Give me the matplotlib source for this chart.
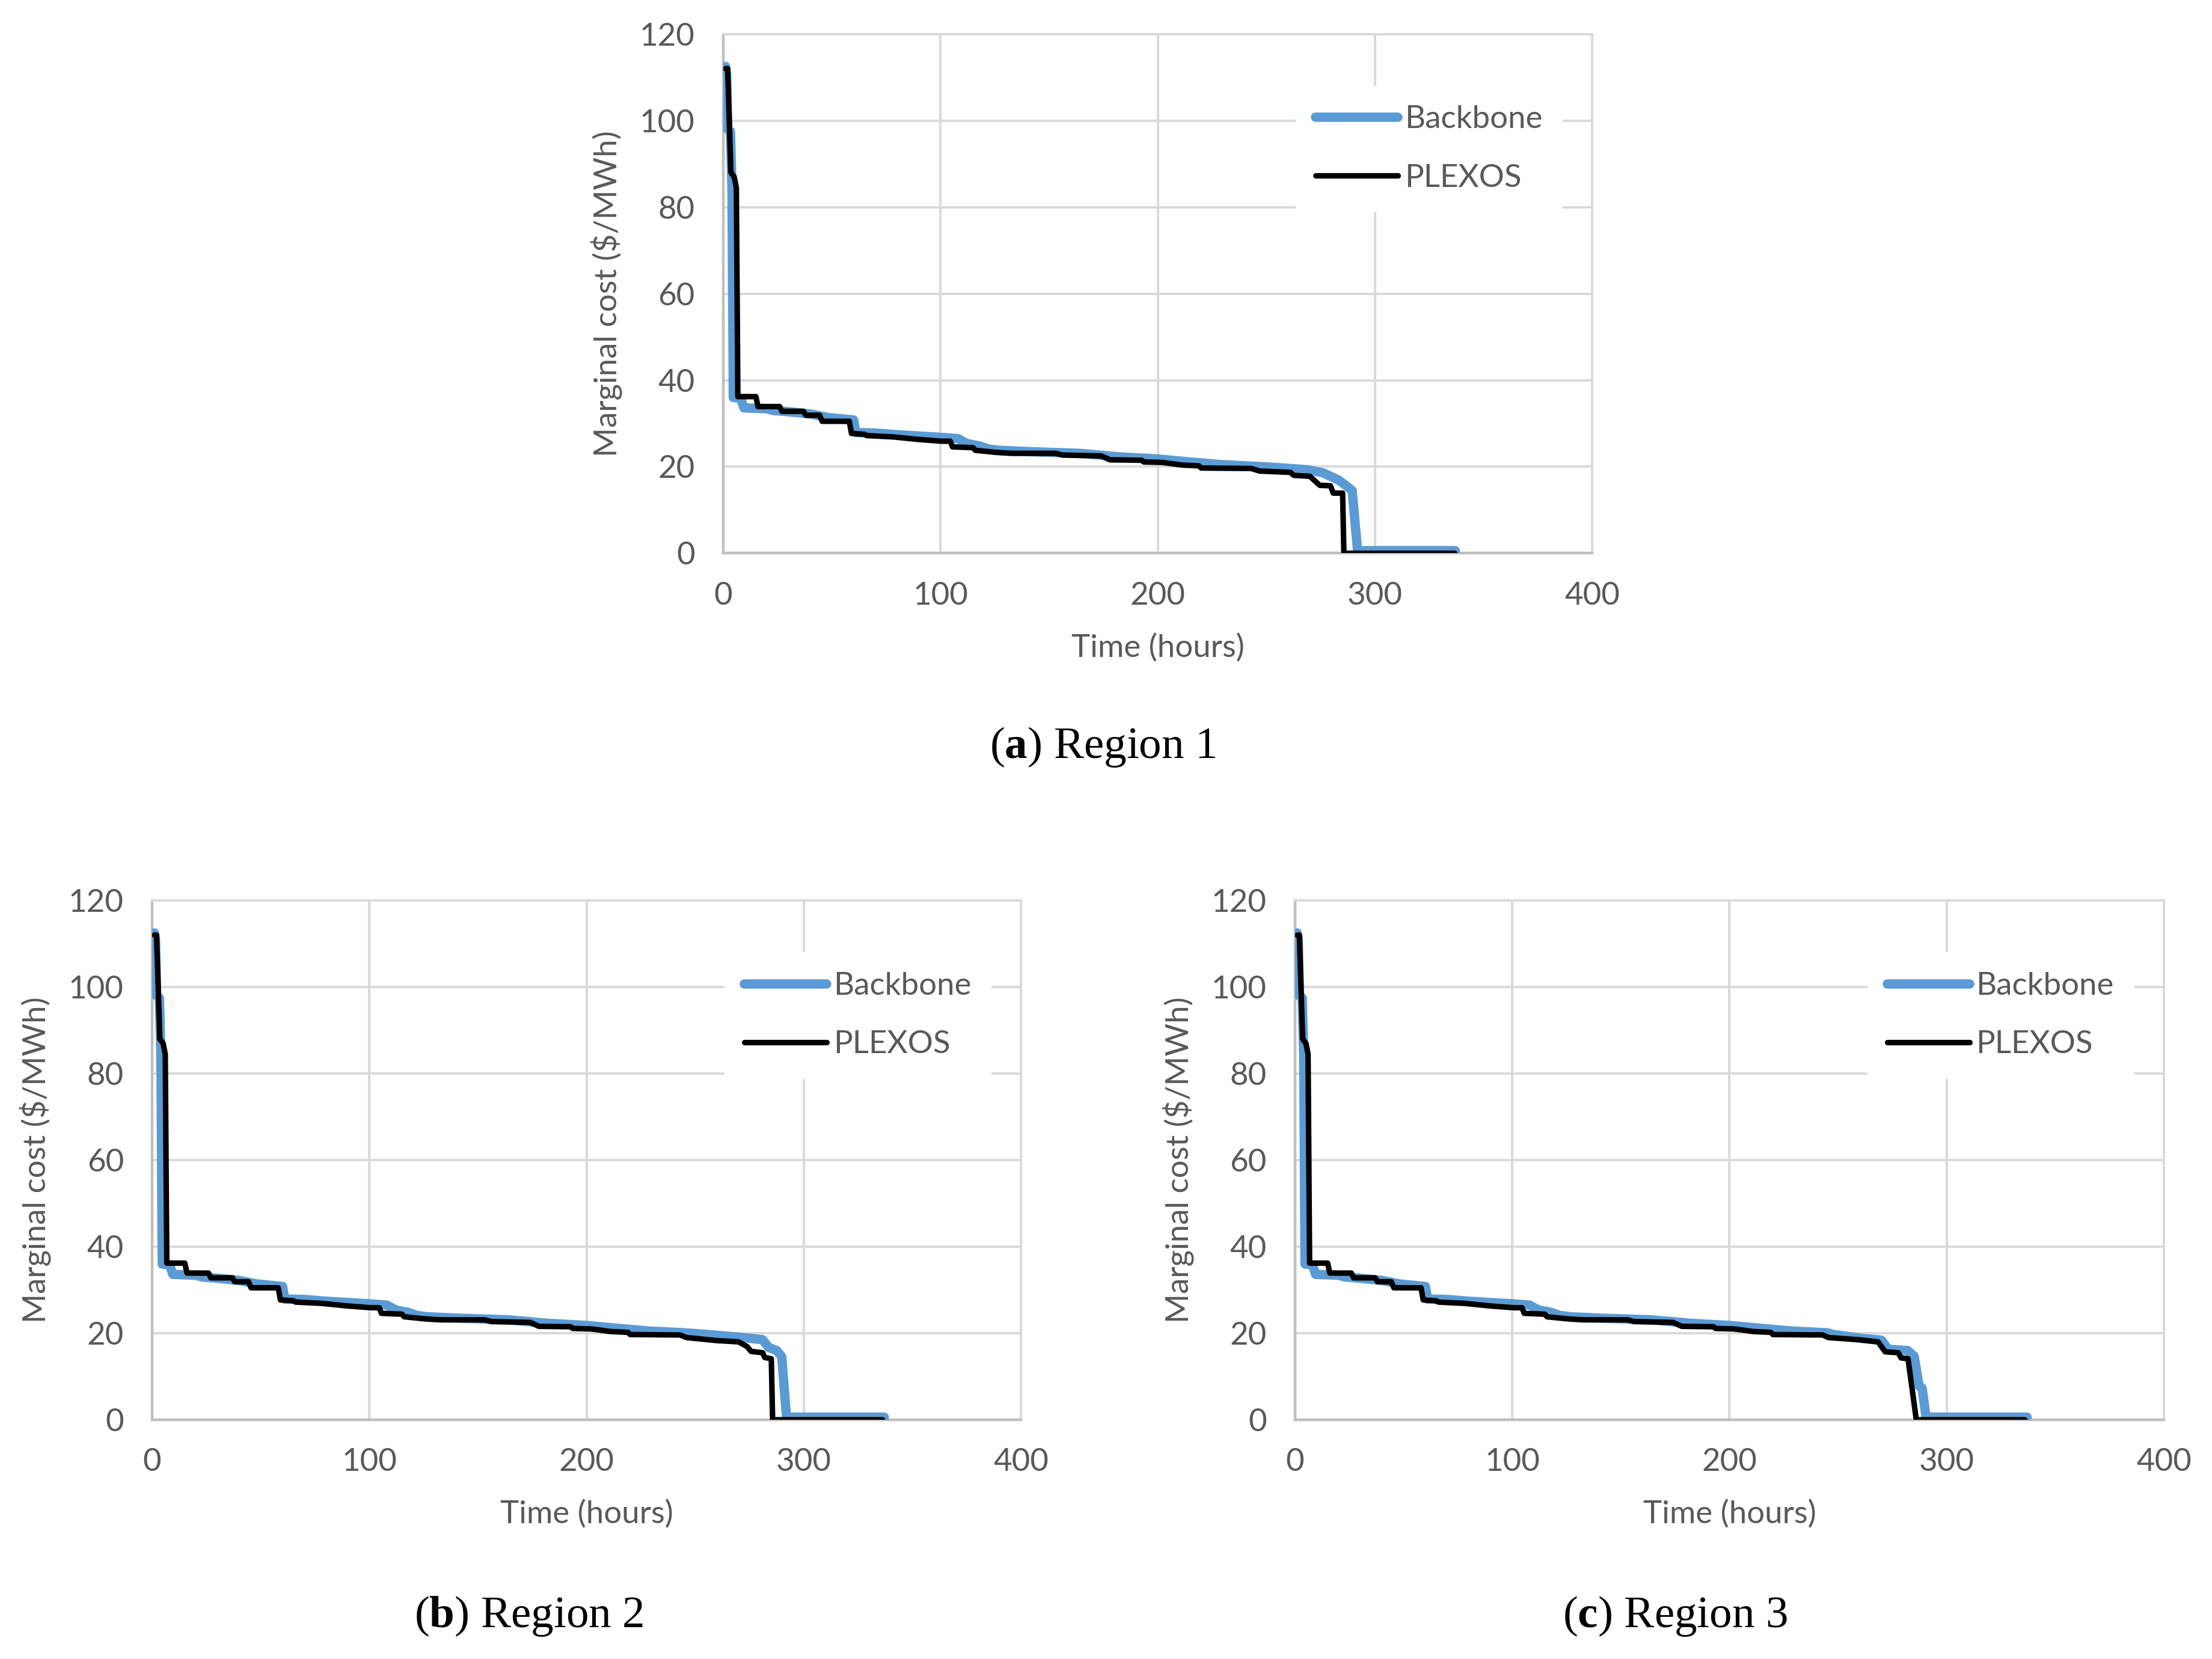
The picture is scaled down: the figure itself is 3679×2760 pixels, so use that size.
"""Marginal cost duration curves: Backbone vs PLEXOS for three regions"""
import numpy as np
import matplotlib
matplotlib.use('Agg')
import matplotlib.pyplot as plt

plt.rcParams['font.family'] = ['Lato', 'DejaVu Sans']
plt.rcParams['mathtext.fontset'] = 'custom'
plt.rcParams['mathtext.rm'] = 'Liberation Serif'
plt.rcParams['mathtext.bf'] = 'Liberation Serif:bold'

# ---- data: sorted hourly marginal cost ($/MWh) ----
# part shared by all three regions (hours 1..~245)
plexos_head_h = [1, 2, 3.5, 5, 6, 6.7, 15, 16, 25.9, 27, 36.9, 38, 44.3, 45.5, 58, 59,
                 65, 66, 78, 90, 100.5, 104.5, 105.5, 115, 116, 126, 132.5, 153, 156,
                 174, 178, 192.6, 193.6, 202, 211, 219, 220, 243]
plexos_head_v = [112, 112, 88, 87, 84.5, 36.2, 36.2, 33.9, 33.9, 32.8, 32.8, 31.9, 31.9,
                 30.5, 30.5, 27.7, 27.5, 27.2, 26.9, 26.3, 25.9, 25.9, 24.6, 24.4, 23.8,
                 23.3, 23.1, 23.1, 22.7, 22.5, 21.6, 21.5, 21.1, 21.0, 20.4, 20.2, 19.7, 19.6]
backbone_head_h = [1, 1.5, 2, 3.3, 4, 4.6, 8, 9.5, 20, 23, 30, 40, 48, 56, 60, 61, 70, 80,
                   90, 100, 108, 112, 118, 122, 127, 140, 164, 182, 200, 215, 229, 245]
backbone_head_v = [112.5, 111, 98, 97.5, 84, 36, 35.8, 33.6, 33.4, 33.0, 32.7, 32.2, 31.4,
                   31.0, 30.8, 27.9, 27.8, 27.4, 27.1, 26.8, 26.5, 25.4, 24.8, 24.1, 23.8,
                   23.5, 23.1, 22.3, 21.8, 21.1, 20.5, 20.1]

# region specific tails
r1_plexos_h = [247, 261, 262.7, 270, 274.6, 279.5, 280.8, 285.1, 285.7, 336.7]
r1_plexos_v = [19.0, 18.7, 18.0, 17.8, 15.7, 15.6, 13.9, 13.9, 0, 0]
r1_backbone_h = [249, 255, 269, 276, 283, 286, 289.5, 292, 337]
r1_backbone_v = [20.0, 19.8, 19.3, 18.6, 17.0, 15.9, 14.5, 0.6, 0.6]

r2_plexos_h = [246, 260, 270, 273.9, 275.7, 281, 282, 285, 285.6, 336.2]
r2_plexos_v = [19.0, 18.3, 18.0, 16.9, 15.8, 15.5, 14.4, 14.1, 0, 0]
r2_backbone_h = [256, 272, 281, 283.8, 287.5, 289.8, 292, 337]
r2_backbone_v = [19.7, 19.0, 18.5, 16.7, 16.0, 14.6, 0.6, 0.6]

r3_plexos_h = [245.5, 259.4, 268.4, 271.7, 277.7, 279, 282.2, 286, 336]
r3_plexos_v = [19.0, 18.5, 18.0, 15.7, 15.5, 14.3, 14.1, 0, 0]
r3_backbone_h = [248, 261, 270, 273, 282, 285, 287.3, 288.7, 290.5, 337]
r3_backbone_v = [19.7, 18.8, 18.4, 16.3, 16.0, 14.7, 7.8, 7.3, 0.6, 0.6]

captions = [r'($\mathbf{a}$) Region 1', r'($\mathbf{b}$) Region 2', r'($\mathbf{c}$) Region 3']

BLUE = '#5B9BD5'
GRID = '#D9D9D9'
TXT = '#595959'
FS = 19

fig = plt.figure(figsize=(18.4, 13.8), dpi=200)

axes_pos = [
    [0.3269, 0.6665, 0.3927, 0.3130],
    [0.0688, 0.1442, 0.3927, 0.3130],
    [0.5853, 0.1442, 0.3927, 0.3130],
]
caption_pos = [(0.4985, 0.5496), (0.239, 0.0257), (0.757, 0.0257)]

series = [
    (r1_backbone_h, r1_backbone_v, r1_plexos_h, r1_plexos_v),
    (r2_backbone_h, r2_backbone_v, r2_plexos_h, r2_plexos_v),
    (r3_backbone_h, r3_backbone_v, r3_plexos_h, r3_plexos_v),
]

for pos, (bh, bv, ph, pv), cap, cpos in zip(axes_pos, series, captions, caption_pos):
    ax = fig.add_axes(pos)
    b_x = np.array(backbone_head_h + bh)
    b_y = np.array(backbone_head_v + bv)
    p_x = np.array(plexos_head_h + ph)
    p_y = np.array(plexos_head_v + pv)
    ax.plot(b_x, b_y, color=BLUE, lw=5.6, solid_capstyle='round',
            solid_joinstyle='round', label='Backbone', zorder=3)
    ax.plot(p_x, p_y, color='black', lw=3.3, solid_capstyle='round',
            solid_joinstyle='round', label='PLEXOS', zorder=4)

    ax.set_xlim(0, 400)
    ax.set_ylim(0, 120)
    ax.set_xticks(range(0, 401, 100))
    ax.set_yticks(range(0, 121, 20))
    ax.set_axisbelow(True)
    ax.grid(True, color=GRID, lw=1.4)
    for s in ['top', 'right']:
        ax.spines[s].set_color(GRID); ax.spines[s].set_linewidth(1.4)
    for s in ['left', 'bottom']:
        ax.spines[s].set_color('#BFBFBF'); ax.spines[s].set_linewidth(1.6)
    ax.tick_params(length=0, labelsize=FS, labelcolor=TXT)
    ax.tick_params(axis='x', pad=17)
    ax.tick_params(axis='y', pad=17)
    ax.set_xlabel('Time (hours)', fontsize=FS, color=TXT, labelpad=14)
    ax.set_ylabel('Marginal cost ($/MWh)', fontsize=FS, color=TXT, labelpad=10)

    leg = ax.legend(loc='center', bbox_to_anchor=(0.812, 0.779), fontsize=FS,
                    frameon=True, facecolor='white', edgecolor='white', framealpha=1,
                    fancybox=False, handlelength=2.6, handletextpad=0.2,
                    labelspacing=0.95, borderpad=0.6, labelcolor=TXT)

    fig.text(cpos[0], cpos[1], cap, fontfamily='Liberation Serif', fontsize=27,
             ha='center', va='center', color='black')

fig.savefig('out.png', dpi=200)
